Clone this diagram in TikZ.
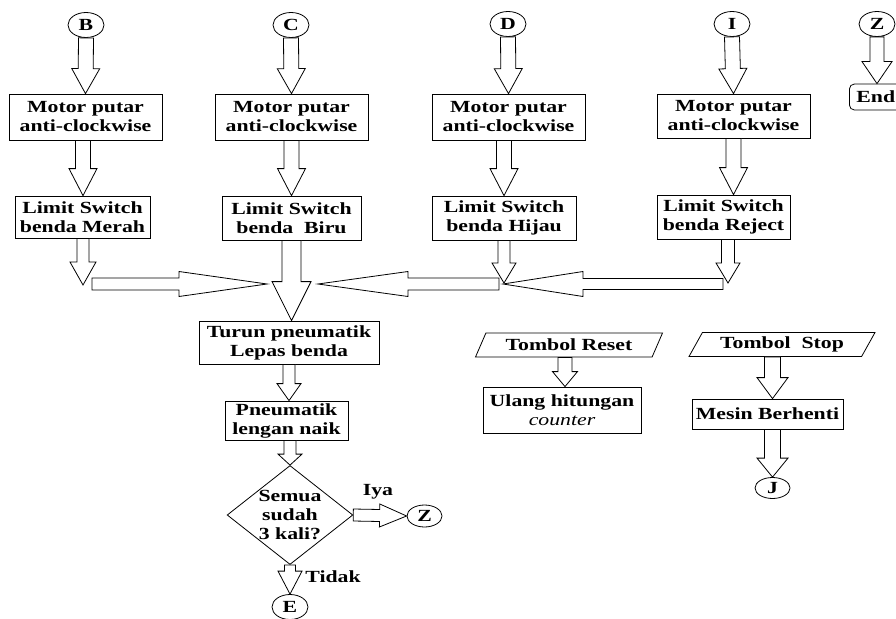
\documentclass[tikz,border=0pt]{standalone}
\usepackage{fontspec}
\setmainfont{Liberation Serif}[FakeStretch=1.28]
\usetikzlibrary{calc}
\usetikzlibrary{shapes.geometric}

% hollow block arrow: from, to, shaft half width, head half width, head length
\newcommand{\fatarrow}[5]{%
  \path coordinate (fa-s) at (#1) coordinate (fa-t) at (#2)
        coordinate (fa-h) at ($(#2)!#5!(#1)$);
  \draw[fat] ($(fa-s)!#3!90:(fa-t)$) -- ($(fa-h)!#3!-90:(fa-s)$)
    -- ($(fa-h)!#4!-90:(fa-s)$) -- (fa-t) -- ($(fa-h)!#4!90:(fa-s)$)
    -- ($(fa-h)!#3!90:(fa-s)$) -- ($(fa-s)!#3!-90:(fa-t)$) -- cycle;
}

\begin{document}
\begin{tikzpicture}[x=1pt, y=-1pt,
  every node/.style={font=\fontsize{17}{19}\selectfont\bfseries},
  box/.style={draw, rectangle, align=center, inner sep=0pt, line width=0.8pt},
  conn/.style={draw, ellipse, inner sep=0pt, minimum width=36, minimum height=25, line width=0.8pt},
  io/.style={draw, trapezium, trapezium left angle=49, trapezium right angle=131,
    trapezium stretches body=true, inner sep=0pt, minimum height=24, line width=0.8pt},
  dec/.style={draw, diamond, aspect=1.27, inner sep=0pt, align=center, line width=0.8pt},
  fat/.style={draw, line width=0.8pt, line join=miter, fill=white}]

  \useasboundingbox (0,0) rectangle (896,618);
  \clip (0,0) rectangle (896,618);

  % connectors on top
  \node[conn] (B) at (86,25)  {B};
  \node[conn] (C) at (291,25) {C};
  \node[conn] (D) at (508,24) {D};
  \node[conn] (I) at (732,24) {I};
  \node[conn] (Z) at (877,24) {Z};

  % motor boxes
  \node[box, minimum width=153, minimum height=46] (m1) at (85.5,117)  {Motor putar\\anti-clockwise};
  \node[box, minimum width=153, minimum height=46] (m2) at (291.5,117) {Motor putar\\anti-clockwise};
  \node[box, minimum width=153, minimum height=46] (m3) at (508.5,117) {Motor putar\\anti-clockwise};
  \node[box, minimum width=153, minimum height=44] (m4) at (733.5,116) {Motor putar\\anti-clockwise};

  % limit switches
  \node[box, minimum width=135, minimum height=42] (ls1) at (82.5,217)  {Limit Switch\\benda Merah};
  \node[box, minimum width=139, minimum height=44] (ls2) at (291.5,218) {Limit Switch\\benda\ \ Biru\hspace{28pt}};
  \node[box, minimum width=144, minimum height=44] (ls3) at (504,218)   {Limit Switch\\benda Hijau\hspace{6pt}};
  \node[box, minimum width=133, minimum height=44] (ls4) at (723.5,217) {Limit Switch\\benda Reject};

  \node[draw, rounded corners=5, anchor=west, minimum height=26, inner sep=0pt, inner xsep=7pt,
    line width=0.8pt] (endnode) at (849,97) {End\hspace{20pt}};

  % merge points
  \coordinate (j1)  at (83,285);
  \coordinate (h1s) at (92,284);
  \coordinate (h1t) at (267,284);
  \coordinate (h2t) at (318,284);
  \coordinate (h2s) at (499,284);
  \coordinate (j3)  at (504,283);
  \coordinate (h3t) at (503,284);
  \coordinate (h3s) at (723,284);
  \coordinate (j4)  at (728,283);

  % lower part
  \node[box, minimum width=180, minimum height=43] (turun) at (289,342.5) {Turun pneumatik\\Lepas benda};
  \node[box, minimum width=123, minimum height=39] (pneu) at (286.5,420.5) {Pneumatik\\lengan naik};
  \node[dec] (cek) at (290,515) {Semua\\sudah\\3 kali?};
  \node[conn, minimum width=35, minimum height=22] (Zb) at (424.5,516) {Z};
  \node[conn] (E) at (290,607) {E};
  \node (iya) at (378,492) {Iya};
  \node (tidak) at (333,577) {Tidak};

  \node[io, minimum width=187] (reset) at (569,345) {Tombol Reset};
  \node[box, minimum width=158, minimum height=46] (ulang) at (562,410) {Ulang hitungan\\{\mdseries\itshape counter}};
  \node[io, minimum width=186] (stop) at (782,344.5) {Tombol\ \ Stop};
  \node[box, minimum width=151, minimum height=30] (mesin) at (767.5,414) {Mesin Berhenti};
  \node[conn, minimum width=35, minimum height=21] (J) at (772.5,488) {J};

  % block arrows
  \fatarrow{B.south}{m1.north}{7.5pt}{14pt}{25pt}
  \fatarrow{C.south}{m2.north}{7.5pt}{14pt}{25pt}
  \fatarrow{D.south}{m3.north}{7.5pt}{14pt}{25pt}
  \fatarrow{I.south}{m4.north}{7.5pt}{14pt}{25pt}
  \fatarrow{Z.south}{Z.south |- endnode.north}{7pt}{15pt}{22pt}

  \fatarrow{m1.south -| j1}{ls1.north -| j1}{7.5pt}{14pt}{27pt}
  \fatarrow{m2.south}{m2.south |- ls2.north}{7.5pt}{14pt}{27pt}
  \fatarrow{m3.south -| j3}{ls3.north -| j3}{7.5pt}{14pt}{27pt}
  \fatarrow{m4.south}{m4.south |- ls4.north}{7.5pt}{14pt}{27pt}

  \fatarrow{ls1.south -| j1}{j1}{6pt}{13pt}{23pt}
  \fatarrow{h1s}{h1t}{6pt}{12.5pt}{88pt}
  \fatarrow{h3s}{h3t}{5.5pt}{12.5pt}{80pt}
  \fatarrow{ls3.south -| j3}{j3}{6pt}{12pt}{20pt}
  \fatarrow{h2s}{h2t}{6pt}{12.5pt}{90pt}
  \fatarrow{ls4.south -| j4}{j4}{6.5pt}{12pt}{20pt}
  \fatarrow{ls2.south}{ls2.south |- turun.north}{9.5pt}{19.5pt}{39pt}

  \fatarrow{turun.south}{turun.south |- pneu.north}{6pt}{12pt}{17pt}
  \fatarrow{pneu.south -| cek.north}{cek.north}{6pt}{12pt}{11pt}
  \fatarrow{cek.east}{Zb.west}{6pt}{11.5pt}{27pt}
  \fatarrow{cek.south}{E.north}{5.5pt}{12pt}{23pt}

  \fatarrow{reset.south -| 565,0}{ulang.north -| 565,0}{7pt}{12.5pt}{15pt}
  \fatarrow{stop.south -| J}{mesin.north -| J}{8pt}{15.5pt}{21pt}
  \fatarrow{mesin.south -| J}{J.north}{8pt}{15.5pt}{19pt}
\end{tikzpicture}
\end{document}
